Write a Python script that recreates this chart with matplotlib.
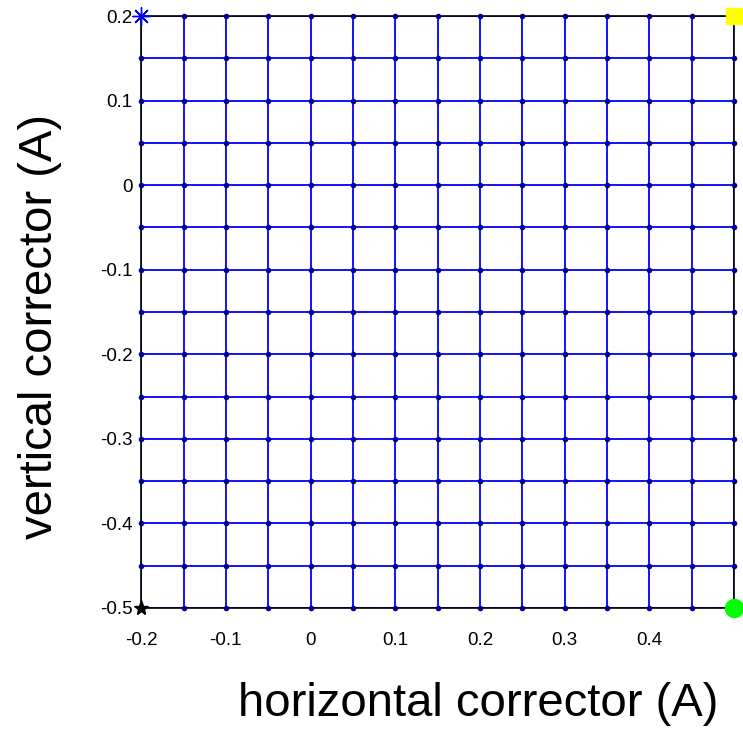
import matplotlib
matplotlib.use("Agg")
import matplotlib.pyplot as plt

# corrector scan grid (A)
h_vals = [-0.2, -0.15, -0.1, -0.05, 0.0, 0.05, 0.1, 0.15, 0.2, 0.25, 0.3, 0.35, 0.4, 0.45, 0.5]
v_vals = [-0.5, -0.45, -0.4, -0.35, -0.3, -0.25, -0.2, -0.15, -0.1, -0.05, 0.0, 0.05, 0.1, 0.15, 0.2]

xticks = [-0.2, -0.1, 0, 0.1, 0.2, 0.3, 0.4]
xticklabels = ["-0.2", "-0.1", "0", "0.1", "0.2", "0.3", "0.4"]
yticks = [0.2, 0.1, 0, -0.1, -0.2, -0.3, -0.4, -0.5]
yticklabels = ["0.2", "0.1", "0", "-0.1", "-0.2", "-0.3", "-0.4", "-0.5"]

# corner markers
corner_x = [-0.2, 0.5, 0.5, -0.2]
corner_y = [0.2, 0.2, -0.5, -0.5]

plt.rcParams['font.family'] = ['Liberation Sans', 'DejaVu Sans']

fig = plt.figure(figsize=(7.43, 7.29), dpi=100)
ax = fig.add_axes([0.19, 0.166, 0.798, 0.812])

for x in h_vals:
    ax.plot([x] * len(v_vals), v_vals, color='#0000ff', lw=1.3, zorder=2)
for y in v_vals:
    ax.plot(h_vals, [y] * len(h_vals), color='#0000ff', lw=1.3, zorder=2)

for x in h_vals:
    ax.plot([x] * len(v_vals), v_vals, ls='none', marker='o', ms=3,
            color='#000090', zorder=3, clip_on=False)

ax.plot(corner_x[0], corner_y[0], ls='none', marker=(8, 2, 0), ms=13,
        mec='#0000ff', mew=1.0, zorder=5, clip_on=False)
ax.plot(corner_x[1], corner_y[1], ls='none', marker='s', ms=12,
        color='#ffff00', zorder=5, clip_on=False)
ax.plot(corner_x[2], corner_y[2], ls='none', marker='o', ms=13,
        color='#00ff00', zorder=5, clip_on=False)
ax.plot(corner_x[3], corner_y[3], ls='none', marker='*', ms=11,
        color='black', zorder=5, clip_on=False)

ax.set_xlim(-0.2, 0.5)
ax.set_ylim(-0.5, 0.2)
ax.set_xticks(xticks)
ax.set_xticklabels(xticklabels)
ax.set_yticks(yticks)
ax.set_yticklabels(yticklabels)
ax.tick_params(axis='both', length=0, labelsize=13.5)
ax.tick_params(axis='x', pad=17)
ax.tick_params(axis='y', pad=6)
for s in ax.spines.values():
    s.set_linewidth(1.2)

ax.set_xlabel("horizontal corrector (A)", fontsize=34)
ax.set_ylabel("vertical corrector (A)", fontsize=34)
ax.xaxis.set_label_coords(0.568, -0.162)
ax.yaxis.set_label_coords(-0.17, 0.476)
ax.xaxis.label.set_va('center')
ax.yaxis.label.set_va('center')

fig.savefig("out.png", dpi=100)
